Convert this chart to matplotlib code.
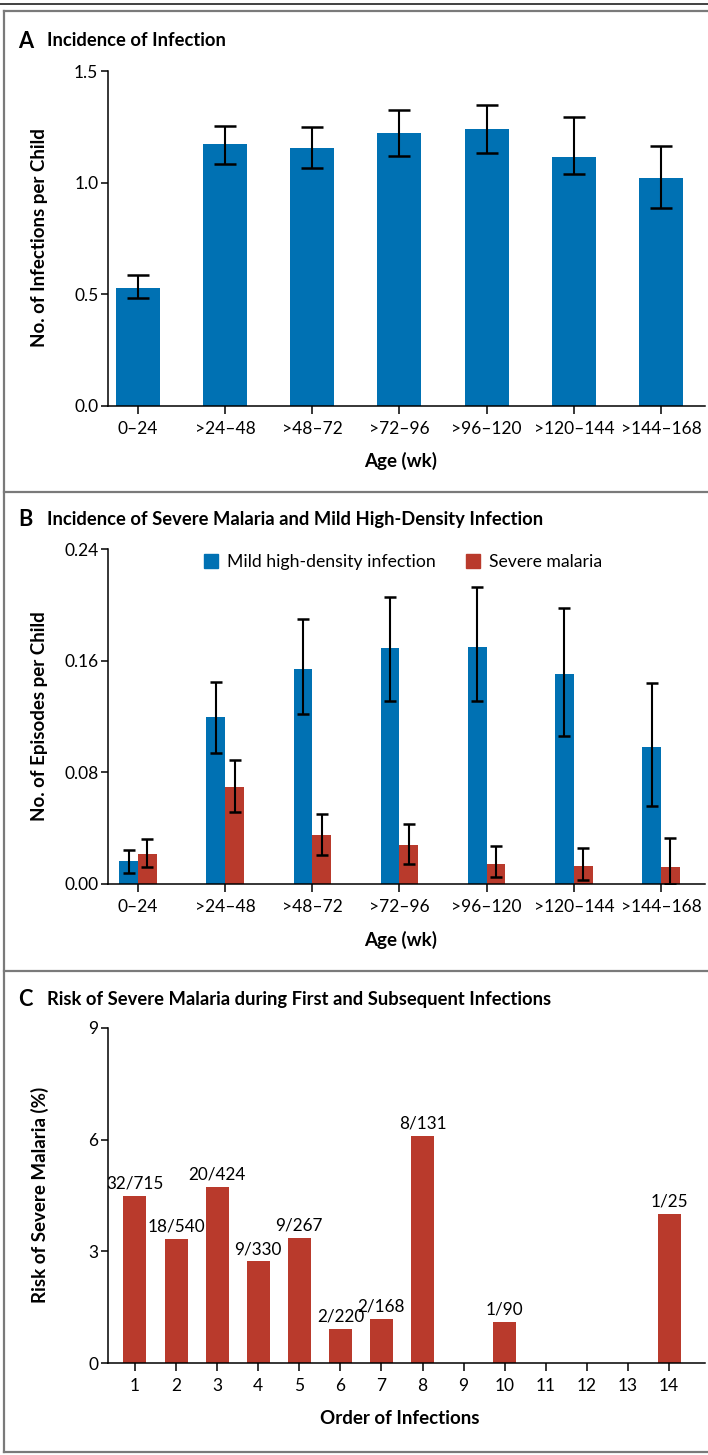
import matplotlib
matplotlib.use("Agg")
import matplotlib.pyplot as plt
from matplotlib import font_manager
from matplotlib.lines import Line2D
from matplotlib.patches import Patch

# ---------------- data ----------------
age_groups = ["0\u201324", ">24\u201348", ">48\u201372", ">72\u201396",
              ">96\u2013120", ">120\u2013144", ">144\u2013168"]

# Panel A: incidence of infection
infections = [0.53, 1.173, 1.155, 1.222, 1.240, 1.115, 1.021]
infections_lo = [0.484, 1.084, 1.066, 1.120, 1.133, 1.039, 0.887]
infections_hi = [0.587, 1.254, 1.249, 1.325, 1.348, 1.294, 1.164]

# Panel B: mild high-density infection and severe malaria
mild = [0.0164, 0.1193, 0.1543, 0.1693, 0.1700, 0.1507, 0.0979]
mild_lo = [0.0081, 0.0936, 0.1221, 0.1310, 0.1310, 0.1060, 0.0560]
mild_hi = [0.0243, 0.1448, 0.1900, 0.2057, 0.2129, 0.1980, 0.1438]
severe = [0.0214, 0.0693, 0.0350, 0.0279, 0.0143, 0.0129, 0.0121]
severe_lo = [0.0119, 0.0519, 0.0210, 0.0140, 0.0052, 0.0031, 0.0000]
severe_hi = [0.0321, 0.0888, 0.0502, 0.0431, 0.0271, 0.0260, 0.0331]

# Panel C: risk of severe malaria by order of infection
orders = list(range(1, 15))
severe_cases = [32, 18, 20, 9, 9, 2, 2, 8, 0, 1, 0, 0, 0, 1]
infections_n = [715, 540, 424, 330, 267, 220, 168, 131, 0, 90, 0, 0, 0, 25]

# ---------------- style ----------------
BLUE = "#0071b3"
RED = "#b93a2c"
FRAME = "#7a7a7a"

avail = {f.name for f in font_manager.fontManager.ttflist}
pref = ["Lato", "Roboto", "DejaVu Sans"]
fam = [f for f in pref if f in avail][:1] + ["DejaVu Sans"]
plt.rcParams["font.family"] = fam
plt.rcParams["axes.linewidth"] = 1.1
plt.rcParams["xtick.major.width"] = 1.1
plt.rcParams["ytick.major.width"] = 1.1

W, H = 708, 1455
fig = plt.figure(figsize=(W / 100, H / 100), dpi=100)


def fx(px):
    return px / W


def fy(py):
    return 1 - py / H


def make_axes(top, bottom, left=108, right=705):
    return fig.add_axes([fx(left), fy(bottom), fx(right) - fx(left), (bottom - top) / H])


TICK_FS = 12.5


def style(ax):
    ax.spines["top"].set_visible(False)
    ax.spines["right"].set_visible(False)
    ax.tick_params(axis="y", direction="out", length=5, labelsize=TICK_FS, pad=2)
    ax.tick_params(axis="x", direction="out", length=6, labelsize=TICK_FS, pad=5)


TITLE_FS = 13.2
LABEL_FS = 13.5


def panel_title(py, letter, text):
    fig.text(fx(18), fy(py), letter, fontsize=TITLE_FS + 2.5, fontweight="bold", va="center", ha="left")
    fig.text(fx(47), fy(py), text, fontsize=TITLE_FS, fontweight="bold", va="center", ha="left")


err_kw = dict(ecolor="black", elinewidth=1.5, capthick=1.8)

# ---------------- Panel A ----------------
axA = make_axes(71, 406)
xA = list(range(len(age_groups)))
yerrA = [[v - lo for v, lo in zip(infections, infections_lo)],
         [hi - v for v, hi in zip(infections, infections_hi)]]
axA.bar(xA, infections, width=0.505, color=BLUE, yerr=yerrA, capsize=8, error_kw=err_kw)
axA.set_xlim(-0.344, 6.505)
axA.set_ylim(0, 1.5)
axA.set_yticks([0.0, 0.5, 1.0, 1.5])
axA.set_yticklabels(["0.0", "0.5", "1.0", "1.5"])
axA.set_xticks(xA)
axA.set_xticklabels(age_groups)
style(axA)
fig.text(fx(40), fy(238), "No. of Infections per Child", rotation=90, fontsize=LABEL_FS,
         fontweight="bold", ha="center", va="center")
fig.text(fx(401), fy(461), "Age (wk)", fontsize=LABEL_FS, fontweight="bold", ha="center", va="center")
panel_title(41, "A", "Incidence of Infection")

# ---------------- Panel B ----------------
axB = make_axes(549, 884)
bw = 0.215
xm = [x - bw / 2 for x in xA]
xs = [x + bw / 2 for x in xA]
yerr_m = [[v - lo for v, lo in zip(mild, mild_lo)], [hi - v for v, hi in zip(mild, mild_hi)]]
yerr_s = [[v - lo for v, lo in zip(severe, severe_lo)], [hi - v for v, hi in zip(severe, severe_hi)]]
axB.bar(xm, mild, width=bw, color=BLUE, yerr=yerr_m, capsize=4, error_kw=err_kw)
axB.bar(xs, severe, width=bw, color=RED, yerr=yerr_s, capsize=4, error_kw=err_kw)
axB.set_xlim(-0.344, 6.505)
axB.set_ylim(0, 0.24)
axB.set_yticks([0.0, 0.08, 0.16, 0.24])
axB.set_yticklabels(["0.00", "0.08", "0.16", "0.24"])
axB.set_xticks(xA)
axB.set_xticklabels(age_groups)
style(axB)
handles = [Patch(color=BLUE, label="Mild high-density infection"),
           Patch(color=RED, label="Severe malaria")]
leg = axB.legend(handles=handles, ncol=2, frameon=False, fontsize=12.7,
                 handlelength=0.8, handleheight=0.8, handletextpad=0.5, columnspacing=1.7,
                 loc="center", bbox_to_anchor=(fx(403), fy(562)), bbox_transform=fig.transFigure)
fig.text(fx(40), fy(716), "No. of Episodes per Child", rotation=90, fontsize=LABEL_FS,
         fontweight="bold", ha="center", va="center")
fig.text(fx(401), fy(940), "Age (wk)", fontsize=LABEL_FS, fontweight="bold", ha="center", va="center")
panel_title(519, "B", "Incidence of Severe Malaria and Mild High-Density Infection")

# ---------------- Panel C ----------------
axC = make_axes(1028, 1363)
risk = [100.0 * c / n if n else 0.0 for c, n in zip(severe_cases, infections_n)]
axC.bar(orders, risk, width=0.56, color=RED)
for o, r, c, n in zip(orders, risk, severe_cases, infections_n):
    if n:
        axC.text(o, r + 0.12, f"{c}/{n}", ha="center", va="bottom", fontsize=12.3)
axC.set_xlim(0.343, 14.876)
axC.set_ylim(0, 9)
axC.set_yticks([0, 3, 6, 9])
axC.set_xticks(orders)
style(axC)
fig.text(fx(40), fy(1195), "Risk of Severe Malaria (%)", rotation=90, fontsize=LABEL_FS,
         fontweight="bold", ha="center", va="center")
fig.text(fx(400), fy(1418), "Order of Infections", fontsize=LABEL_FS, fontweight="bold",
         ha="center", va="center")
panel_title(999, "C", "Risk of Severe Malaria during First and Subsequent Infections")

# ---------------- frame ----------------
fig.add_artist(Line2D([0, 1], [fy(3.5), fy(3.5)], color="#333333", lw=1.3, transform=fig.transFigure))
for py in [11, 492, 971, 1452]:
    fig.add_artist(Line2D([fx(4), 1], [fy(py), fy(py)], color=FRAME, lw=1.6, transform=fig.transFigure))
fig.add_artist(Line2D([fx(4), fx(4)], [fy(11), fy(1452)], color=FRAME, lw=1.6, transform=fig.transFigure))

fig.savefig("out.png", dpi=100)
